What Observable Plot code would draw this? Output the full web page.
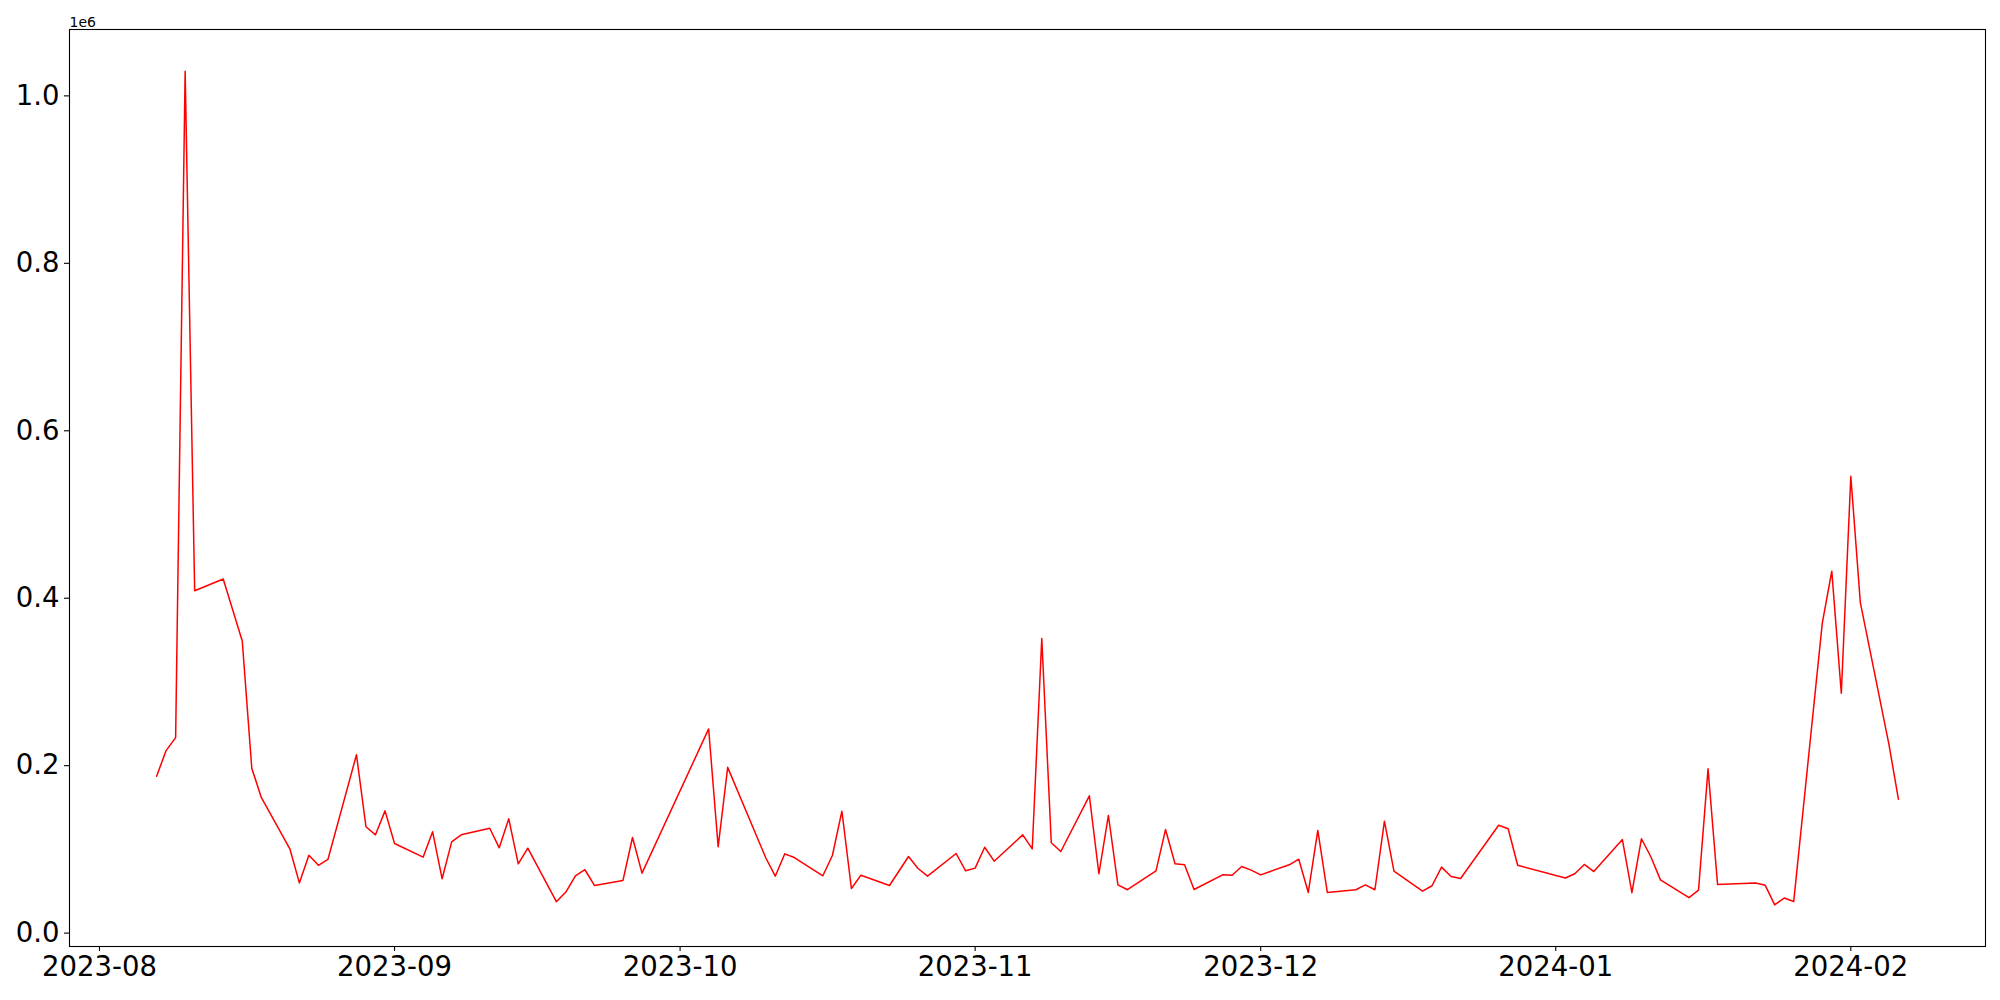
<!DOCTYPE html>
<html>
<head>
<meta charset="utf-8">
<script src="https://cdn.jsdelivr.net/npm/d3@7"></script>
<script src="https://cdn.jsdelivr.net/npm/@observablehq/plot@0.6"></script>
<style>
  html, body { margin: 0; padding: 0; background: #fff; }
  #chart { width: 2000px; height: 1000px; }
</style>
</head>
<body>
<div id="chart"></div>
<script>
const dates = [
  "2023-08-07","2023-08-08","2023-08-09","2023-08-10","2023-08-11","2023-08-14","2023-08-16","2023-08-17","2023-08-18",
  "2023-08-21","2023-08-22","2023-08-23","2023-08-24","2023-08-25","2023-08-28","2023-08-29","2023-08-30","2023-08-31",
  "2023-09-01","2023-09-04","2023-09-05","2023-09-06","2023-09-07","2023-09-08","2023-09-11","2023-09-12","2023-09-13",
  "2023-09-14","2023-09-15","2023-09-18","2023-09-19","2023-09-20","2023-09-21","2023-09-22","2023-09-25","2023-09-26",
  "2023-09-27","2023-10-04","2023-10-05","2023-10-06","2023-10-10","2023-10-11","2023-10-12","2023-10-13","2023-10-16",
  "2023-10-17","2023-10-18","2023-10-19","2023-10-20","2023-10-23","2023-10-25","2023-10-26","2023-10-27","2023-10-30",
  "2023-10-31","2023-11-01","2023-11-02","2023-11-03","2023-11-06","2023-11-07","2023-11-08","2023-11-09","2023-11-10",
  "2023-11-13","2023-11-14","2023-11-15","2023-11-16","2023-11-17","2023-11-20","2023-11-21","2023-11-22","2023-11-23",
  "2023-11-24","2023-11-27","2023-11-28","2023-11-29","2023-11-30","2023-12-01","2023-12-04","2023-12-05","2023-12-06",
  "2023-12-07","2023-12-08","2023-12-11","2023-12-12","2023-12-13","2023-12-14","2023-12-15","2023-12-18","2023-12-19",
  "2023-12-20","2023-12-21","2023-12-22","2023-12-26","2023-12-27","2023-12-28","2024-01-02","2024-01-03","2024-01-04",
  "2024-01-05","2024-01-08","2024-01-09","2024-01-10","2024-01-11","2024-01-12","2024-01-15","2024-01-16","2024-01-17",
  "2024-01-18","2024-01-22","2024-01-23","2024-01-24","2024-01-25","2024-01-26","2024-01-29","2024-01-30","2024-01-31",
  "2024-02-01","2024-02-02","2024-02-05","2024-02-06"
];
const values = [
  187400, 218000, 233500, 1029500, 409000, 423000, 349000, 197000, 162000,
  100700, 60000, 93000, 81000, 88000, 213000, 127000, 117400, 146000,
  107000, 90700, 121000, 64900, 109000, 117400, 125300, 101900, 136500,
  82800, 101400, 37500, 49000, 68500, 75700, 56900, 62900, 114200,
  71600, 243900, 103100, 198000, 90000, 68000, 94700, 90300, 68500,
  92700, 145600, 53300, 69200, 56900, 91500, 77200, 68000, 95100,
  74400, 77600, 102600, 85900, 117400, 100700, 352000, 107900, 97500,
  164000, 70900, 140500, 57700, 51800, 74400, 123700, 82800, 81600,
  52100, 69600, 69200, 79600, 75200, 69600, 81600, 88300, 48600,
  122600, 48600, 51800, 57700, 51800, 133700, 74000, 50100, 56600,
  78800, 67700, 65300, 128900, 124600, 81100, 65800, 70900, 82000,
  73500, 111800, 48300, 112700, 90900, 63600, 42400, 51300, 196200,
  58100, 59800, 57300, 33800, 41900, 37700, 370000, 432300, 286500,
  545700, 394800, 225700, 160000
];
const yTicks = [0, 200000, 400000, 600000, 800000, 1000000];
const xTickLabels = ["2023-08","2023-09","2023-10","2023-11","2023-12","2024-01","2024-02"];
const offsetText = "1e6";

const parse = d3.utcParse("%Y-%m-%d");
const parseMonth = d3.utcParse("%Y-%m");
const data = dates.map((d, i) => ({date: parse(d), value: values[i]}));
const xTicks = xTickLabels.map(parseMonth);

const xExt = d3.extent(data, d => d.date);
const xPad = (xExt[1] - xExt[0]) * 0.05;
const yExt = d3.extent(data, d => d.value);
const yPad = (yExt[1] - yExt[0]) * 0.05;

const FONT = "'DejaVu Sans', sans-serif";

const chart = Plot.plot({
  width: 2000,
  height: 1000,
  marginLeft: 69,
  marginRight: 15,
  marginTop: 29,
  marginBottom: 54,
  style: {background: "#fff", color: "#000", fontFamily: FONT, fontSize: "27.5px", overflow: "visible"},
  x: {type: "utc", domain: [new Date(+xExt[0] - xPad), new Date(+xExt[1] + xPad)]},
  y: {domain: [yExt[0] - yPad, yExt[1] + yPad]},
  marks: [
    Plot.line(data, {x: "date", y: "value", stroke: "red", strokeWidth: 1.5}),
    Plot.frame({stroke: "#000", strokeWidth: 1.1}),
    Plot.axisX({ticks: xTicks, tickFormat: d3.utcFormat("%Y-%m"), tickSize: 5, tickPadding: 5, strokeWidth: 1.1, label: null, fontSize: 27.5, fill: "#000"}),
    Plot.axisY({ticks: yTicks, tickFormat: d => (d / 1e6).toFixed(1), tickSize: 5, tickPadding: 5, strokeWidth: 1.1, label: null, fontSize: 27.5, fill: "#000"}),
    Plot.text([offsetText], {text: d => d, frameAnchor: "top-left", textAnchor: "start", lineAnchor: "bottom", dy: -3, fontSize: 14, fill: "#000"})
  ]
});
document.getElementById("chart").appendChild(chart);
</script>
</body>
</html>
